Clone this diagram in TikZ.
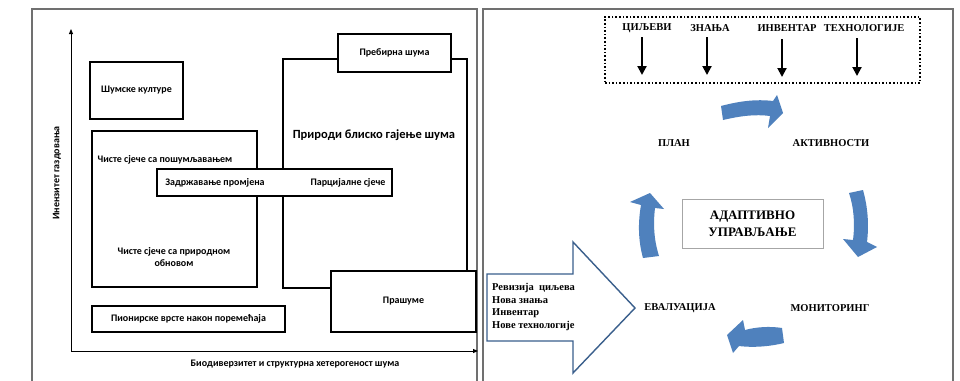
\documentclass[tikz,border=0pt]{standalone}
\usepackage{fontspec}
\setmainfont{Liberation Serif}
\newfontfamily\calib{Carlito}
\usetikzlibrary{arrows.meta}
\definecolor{officeblue}{HTML}{4F81BD}
\definecolor{outlineblue}{HTML}{3A5F8C}
\definecolor{framegray}{HTML}{707070}
\begin{document}
\begin{tikzpicture}[x=1pt,y=-1pt,
  panel/.style={draw=framegray,line width=1.3pt},
  lbox/.style={draw=black,line width=1.1pt,fill=white,inner sep=0},
  lfont/.style={font=\calib\bfseries\fontsize{10}{12}\selectfont},
  ltext/.style={lfont,inner sep=0,align=center},
  bigtext/.style={font=\calib\bfseries\fontsize{12.5}{14}\selectfont,inner sep=0},
  rtext/.style={font=\bfseries\fontsize{10.5}{12.7}\selectfont,inner sep=0},
  toptext/.style={font=\bfseries\fontsize{10.5}{12}\selectfont,inner sep=0},
  axis/.style={line width=1pt,-{Triangle[length=5pt,width=4pt]}},
  downarrow/.style={line width=2pt,-{Triangle[length=9pt,width=9pt]}},
  cyclearrow/.style={fill=officeblue,draw=none},
]
\useasboundingbox (0,0) rectangle (960,380);
\fill[white] (0,0) rectangle (960,380);

% panels
\draw[panel] (32,381) -- (32,9) -- (477,9) -- (477,381);
\draw[panel] (483,381) -- (483,9) -- (953,9) -- (953,381);

% ===== left panel =====
\coordinate (o) at (71,351);
\coordinate (ytop) at (71,29);
\coordinate (xend) at (478,351);
\draw[axis] (o) -- (ytop);
\draw[axis] (o) -- (xend);
\node[ltext,rotate=90] (ylab) at (57,173) {Инензитет газдовања};
\node[ltext] (xlab) at (295,364) {Биодиверзитет и структурна хетерогеност шума};

\node[lbox,minimum width=184pt,minimum height=229pt] (priroda) at (375,173.5) {};
\node[bigtext] (prirodat) at (374,135) {Природи блиско гајење шума};
\node[lbox,minimum width=165pt,minimum height=156pt] (ciste) at (174.5,209) {};
\node[ltext] (ciste1) at (165,160) {Чисте сјече са пошумљавањем};
\node[ltext] (ciste2) at (174,257) {Чисте сјече са природном\\обновом};
\node[lbox,minimum width=235pt,minimum height=27pt] (zadr) at (274.5,182.5) {};
\node[ltext] (zadrt) at (215,183) {Задржавање промјена};
\node[ltext] (parct) at (348,183) {Парцијалне сјече};
\node[lbox,lfont,minimum width=93pt,minimum height=57pt] (kult) at (136.5,90.5) {Шумске културе};
\node[lbox,lfont,minimum width=113pt,minimum height=38pt] (preb) at (394.5,53) {Пребирна шума};
\node[lbox,lfont,minimum width=145pt,minimum height=61pt] (prasume) at (403.5,301.5) {Прашуме};
\node[lbox,lfont,minimum width=193pt,minimum height=26pt] (pion) at (188.5,319) {Пионирске врсте након поремећаја};

% ===== right panel =====
\node[draw=black,dotted,line width=1.6pt,minimum width=315pt,minimum height=66pt,inner sep=0] (inputs) at (762.5,50) {};
\node[toptext] (cilj) at (647,28) {ЦИЉЕВИ};
\node[toptext] (zn) at (710,28) {ЗНАЊА};
\node[toptext] (inv) at (787,28) {ИНВЕНТАР};
\node[toptext] (teh) at (864,28) {ТЕХНОЛОГИЈЕ};
\coordinate (a1s) at (642,37); \coordinate (a1e) at (642,75);
\coordinate (a2s) at (707,37); \coordinate (a2e) at (707,75);
\coordinate (a3s) at (782,39); \coordinate (a3e) at (782,77);
\coordinate (a4s) at (857,38); \coordinate (a4e) at (857,76);
\draw[downarrow] (a1s) -- (a1e);
\draw[downarrow] (a2s) -- (a2e);
\draw[downarrow] (a3s) -- (a3e);
\draw[downarrow] (a4s) -- (a4e);

\node[rtext] (plan) at (674,143) {ПЛАН};
\node[rtext] (akt) at (831,143) {АКТИВНОСТИ};
\node[rtext] (eval) at (680,308) {ЕВАЛУАЦИЈА};
\node[rtext] (mon) at (830,308) {МОНИТОРИНГ};

\node[draw=black!35,line width=0.6pt,minimum width=141pt,minimum height=49pt,inner sep=0,
      font=\bfseries\fontsize{13}{17}\selectfont,align=center] (adapt) at (752.5,223.5) {АДАПТИВНО\\УПРАВЉАЊЕ};

% cycle arrows
\fill[cyclearrow] (721,106) .. controls (740,101) and (756,99) .. (773,101) -- (777,95) -- (783,113)
  -- (768,128) -- (770,116) .. controls (755,114) and (740,116) .. (723,120) -- cycle;
\fill[cyclearrow] (849,193) -- (863,190) .. controls (868,208) and (869,225) .. (867,242) -- (877,247)
  -- (858,257) -- (843,239) -- (853,240) .. controls (855,224) and (854,208) .. (849,193) -- cycle;
\fill[cyclearrow] (643,258) .. controls (638,240) and (638,222) .. (641,205) -- (630,202) -- (650,193)
  -- (664,209) -- (655,208) .. controls (653,225) and (654,240) .. (659,256) -- cycle;
\fill[cyclearrow] (782,328) .. controls (770,326) and (756,327) .. (745,330) -- (743,320) -- (727,335)
  -- (733,353) -- (739,346) .. controls (755,348) and (772,346) .. (784,343) -- cycle;

% big input arrow
\draw[draw=outlineblue,line width=1.4pt,fill=white,line join=miter] (487,274) -- (573,274) -- (573,242) -- (635,308)
  -- (573,373) -- (573,341) -- (487,341) -- cycle;
\node[rtext,align=left,anchor=west] (revtext) at (492,307) {Ревизија~~циљева\\Нова знања\\Инвентар\\Нове технологије};
\end{tikzpicture}
\end{document}
